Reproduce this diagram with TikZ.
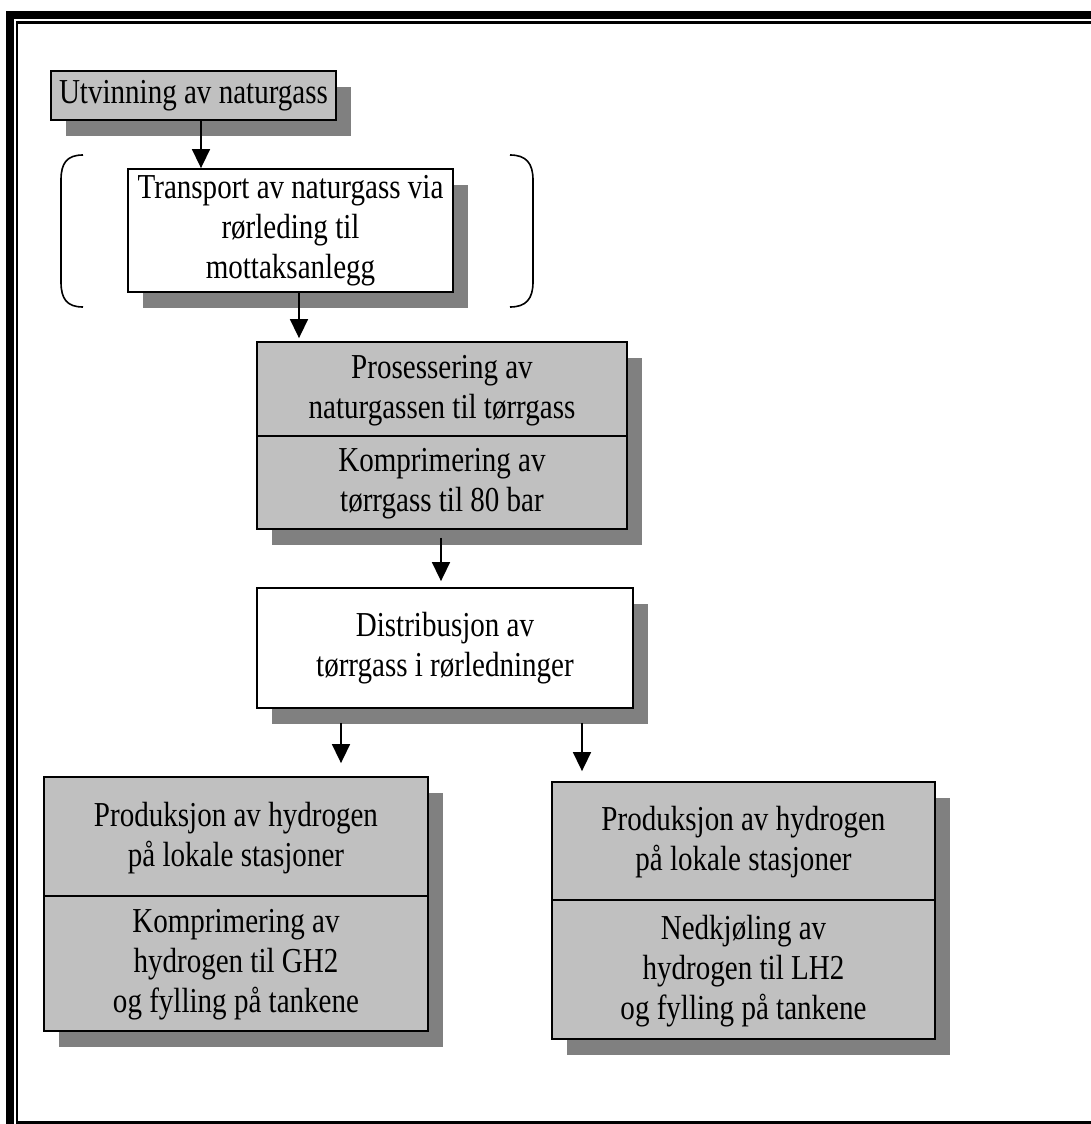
\documentclass[tikz,border=0pt]{standalone}
\usepackage{fontspec}
\setmainfont{Liberation Serif}[FakeStretch=0.83]
\usetikzlibrary{arrows.meta,shadows}
\definecolor{boxgray}{HTML}{C0C0C0}
\definecolor{shadegray}{HTML}{808080}
\begin{document}
\begin{tikzpicture}[x=1pt,y=-1pt,
  txt/.style={font=\fontsize{35}{40}\selectfont, align=center, inner sep=0pt},
  panel/.style={txt, draw=black, line width=1.8pt, fill=boxgray,
    drop shadow={shadow xshift=15pt, shadow yshift=-16pt, fill=shadegray, opacity=1}},
  whitepanel/.style={panel, fill=white},
  parttext/.style={txt, yshift=-1.5pt},
  divider/.style={line width=1.8pt},
  flow/.style={line width=1.6pt, -{Triangle[width=18pt,length=19pt]}},
  bracket/.style={line width=1.6pt}]
\useasboundingbox (0,0) rectangle (1090,1124);

% double frame
\draw[line width=8pt] (10,1130) -- (10,15) -- (1096,15);
\draw[line width=2.5pt] (1096,22.5) -- (17,22.5) -- (17,1122.5) -- (1096,1122.5);

% stages
\node[panel, minimum width=285pt, minimum height=49pt] (utv) at (193.5,95.5)
  {Utvinning av naturgass};
\node[whitepanel, minimum width=325pt, minimum height=123pt] (trans) at (290.5,230.5)
  {Transport av naturgass via\\rørleding til\\mottaksanlegg};
\node[panel, minimum width=370pt, minimum height=187pt] (proc) at (442,435.5) {};
\node[whitepanel, minimum width=376pt, minimum height=120pt] (dist) at (445,648)
  {Distribusjon av\\tørrgass i rørledninger};
\node[panel, minimum width=384pt, minimum height=254pt] (gh) at (236,904) {};
\node[panel, minimum width=383pt, minimum height=257pt] (lh) at (743.5,910.5) {};

% dividers of the two-part stages
\coordinate (d1) at (0,436);
\coordinate (d2) at (0,896);
\coordinate (d3) at (0,900);
\draw[divider] (proc.west |- d1) -- (proc.east |- d1);
\draw[divider] (gh.west |- d2) -- (gh.east |- d2);
\draw[divider] (lh.west |- d3) -- (lh.east |- d3);

% texts of the two-part stages
\node[parttext] (proc1) at (442,389) {Prosessering av\\naturgassen til tørrgass};
\node[parttext] (proc2) at (442,482.5) {Komprimering av\\tørrgass til 80 bar};
\node[parttext] (gh1) at (236,836.5) {Produksjon av hydrogen\\på lokale stasjoner};
\node[parttext] (gh2) at (236,963.5) {Komprimering av\\hydrogen til GH2\\og fylling på tankene};
\node[parttext] (lh1) at (743.5,841) {Produksjon av hydrogen\\på lokale stasjoner};
\node[parttext] (lh2) at (743.5,969.5) {Nedkjøling av\\hydrogen til LH2\\og fylling på tankene};

% brackets around the transport stage
\draw[bracket] (83,155) .. controls (67,155) and (61,163) .. (61,180)
  -- (61,282) .. controls (61,299) and (67,307) .. (83,307);
\draw[bracket] (510,155) .. controls (526,155) and (533,163) .. (533,180)
  -- (533,282) .. controls (533,299) and (526,307) .. (510,307);

% flow arrows
\coordinate (a1) at (201,0);
\coordinate (a2) at (299,0);
\coordinate (a3) at (441,0);
\coordinate (a4) at (341,0);
\coordinate (a5) at (582,0);
\draw[flow] (utv.south -| a1) -- (trans.north -| a1);
\draw[flow, shorten >=3pt] (trans.south -| a2) -- (proc.north -| a2);
\draw[flow, shorten <=8pt, shorten >=6pt] (proc.south -| a3) -- (dist.north -| a3);
\draw[flow, shorten <=14pt, shorten >=13pt] (dist.south -| a4) -- (gh.north -| a4);
\draw[flow, shorten <=14pt, shorten >=10pt] (dist.south -| a5) -- (lh.north -| a5);
\end{tikzpicture}
\end{document}
